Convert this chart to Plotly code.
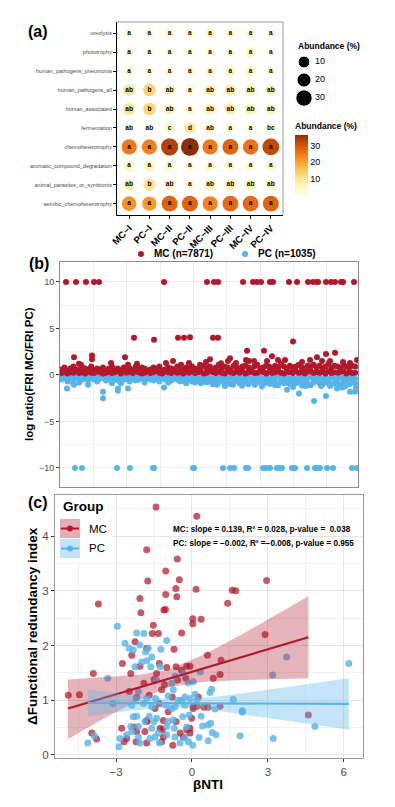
import numpy as np
import plotly.graph_objects as go

W, H = 395, 807
FONT = "Liberation Sans, Arial, Helvetica, sans-serif"


def px(x):
    return x / W


def py(y):
    return 1 - y / H


# ------------------------------------------------------------------ (a) data
groups = ["MC−I", "PC−I", "MC−II", "PC−II", "MC−III", "PC−III", "MC−IV", "PC−IV"]
functions = ["aerobic_chemoheterotrophy", "animal_parasites_or_symbionts",
             "aromatic_compound_degradation", "chemoheterotrophy", "fermentation",
             "human_associated", "human_pathogens_all", "human_pathogens_pneumonia",
             "phototrophy", "ureolysis"]

ab_aerobic_chemoheterotrophy = [22, 21, 28, 28, 24, 27, 27, 28]
ab_animal_parasites_or_symbionts = [8.5, 11, 5.5, 3, 5.5, 6.5, 5.5, 5.5]
ab_aromatic_compound_degradation = [5.5, 6.5, 3.5, 2, 3.5, 3.5, 3.5, 3.5]
ab_chemoheterotrophy = [25, 24, 33, 36.4, 25, 28, 26, 32]
ab_fermentation = [2, 2, 4.5, 9, 2, 1, 1, 3.5]
ab_human_associated = [10.5, 13, 6.5, 3.5, 6.5, 8, 6.5, 6.5]
ab_human_pathogens_all = [10.5, 13, 6.5, 3.5, 6.5, 8, 6.5, 6.5]
ab_human_pathogens_pneumonia = [2, 1.5, 2.5, 2.5, 3, 3.5, 3, 2.5]
ab_phototrophy = [1.5, 1, 1.5, 1, 2.5, 1.5, 4.5, 1.5]
ab_ureolysis = [2, 1.5, 2.5, 2, 3.5, 2, 2, 1.5]

lt_aerobic_chemoheterotrophy = ["a", "a", "a", "a", "a", "a", "a", "a"]
lt_animal_parasites_or_symbionts = ["ab", "b", "ab", "a", "ab", "ab", "ab", "ab"]
lt_aromatic_compound_degradation = ["a", "a", "a", "a", "a", "a", "a", "a"]
lt_chemoheterotrophy = ["a", "a", "a", "a", "a", "a", "a", "a"]
lt_fermentation = ["ab", "ab", "c", "d", "ab", "a", "a", "bc"]
lt_human_associated = ["ab", "b", "ab", "a", "ab", "ab", "ab", "ab"]
lt_human_pathogens_all = ["ab", "b", "ab", "a", "ab", "ab", "ab", "ab"]
lt_human_pathogens_pneumonia = ["a", "a", "a", "a", "a", "a", "a", "a"]
lt_phototrophy = ["a", "a", "a", "a", "a", "a", "a", "a"]
lt_ureolysis = ["a", "a", "a", "a", "a", "a", "a", "a"]

size_legend_values = [10, 20, 30]
colorbar_ticks = [10, 20, 30]

# ------------------------------------------------------------------ (b) data
n_mc = 7871
n_pc = 1035
band_step = 89  # index spacing of the dense band samples
mc_band_hi = [0.6, 0.8, 0.5, 0.7, 0.9, 0.6, 0.5, 0.8, 0.7, 0.6,
              0.9, 0.5, 0.7, 0.6, 0.8, 0.5, 0.7, 0.9, 0.6, 0.7,
              0.5, 0.8, 0.6, 0.7, 0.5, 0.9, 0.6, 0.8, 0.7, 0.5,
              0.6, 0.8, 0.7, 0.9, 0.5, 0.6, 0.8, 0.7, 0.6, 0.9,
              0.7, 0.5, 0.8, 0.6, 0.9, 0.7, 0.6, 0.8, 1.0, 0.7,
              0.9, 0.6, 0.8, 1.1, 0.7, 0.9, 0.8, 0.6, 1.0, 0.8,
              0.7, 0.9, 1.0, 0.8, 0.6, 0.9, 1.1, 0.7, 0.8, 1.0,
              0.9, 0.7, 1.0, 0.8, 1.2, 0.9, 0.7, 1.0, 0.8, 0.9,
              1.1, 0.8, 0.7, 1.0, 0.9, 1.1, 0.8, 1.0, 0.7, 0.9,
              1.2, 0.8, 1.0, 0.9, 0.7, 1.1, 0.9, 0.8, 1.0, 0.9]
mc_band_lo = [0.2, 0.35, 0.15, 0.3, 0.25, 0.4, 0.2, 0.3, 0.15, 0.35,
              0.25, 0.2, 0.4, 0.3, 0.15, 0.25, 0.35, 0.2, 0.3, 0.4,
              0.15, 0.3, 0.25, 0.35, 0.2, 0.4, 0.3, 0.15, 0.25, 0.35,
              0.2, 0.3, 0.4, 0.25, 0.15, 0.35, 0.3, 0.2, 0.4, 0.25,
              0.3, 0.15, 0.35, 0.25, 0.4, 0.2, 0.3, 0.35, 0.15, 0.25,
              0.4, 0.3, 0.2, 0.35, 0.25, 0.15, 0.4, 0.3, 0.2, 0.35,
              0.25, 0.4, 0.15, 0.3, 0.35, 0.2, 0.25, 0.4, 0.3, 0.15,
              0.35, 0.2, 0.3, 0.4, 0.25, 0.15, 0.35, 0.3, 0.2, 0.4,
              0.25, 0.3, 0.15, 0.35, 0.4, 0.2, 0.3, 0.25, 0.35, 0.15,
              0.4, 0.2, 0.3, 0.25, 0.35, 0.4, 0.15, 0.3, 0.2, 0.25]
pc_band_lo = [-0.5, -0.3, -0.7, -0.4, -0.6, -0.3, -0.8, -0.5, -0.4, -0.6,
              -0.3, -0.5, -0.7, -0.4, -0.3, -0.6, -0.5, -0.9, -0.4, -0.6,
              -0.3, -0.5, -0.4, -0.7, -0.3, -0.6, -0.5, -0.4, -0.8, -0.3,
              -0.5, -0.6, -0.4, -0.7, -0.3, -0.5, -0.8, -0.6, -0.4, -0.5,
              -0.7, -0.6, -0.9, -0.5, -0.7, -0.8, -0.6, -0.9, -0.7, -0.8,
              -0.6, -1.0, -0.7, -0.8, -0.6, -0.9, -0.7, -1.0, -0.8, -0.6,
              -0.9, -0.7, -0.8, -1.0, -0.6, -0.9, -0.8, -0.7, -1.0, -0.8,
              -0.9, -0.6, -0.8, -1.1, -0.7, -0.9, -0.8, -1.0, -0.7, -0.9,
              -0.8, -1.0, -0.7, -0.9, -1.1, -0.8, -0.6, -0.9, -1.0, -0.8,
              -0.7, -1.0, -0.9, -0.8, -1.1, -0.7, -0.9, -1.0, -0.8, -0.9]
pc_band_hi = [-0.2, -0.3, -0.15, -0.25, -0.35, -0.2, -0.3, -0.15, -0.4, -0.25,
              -0.2, -0.35, -0.15, -0.3, -0.25, -0.4, -0.2, -0.3, -0.15, -0.35,
              -0.25, -0.2, -0.4, -0.3, -0.15, -0.25, -0.35, -0.2, -0.3, -0.4,
              -0.15, -0.25, -0.3, -0.2, -0.35, -0.4, -0.15, -0.3, -0.25, -0.2,
              -0.35, -0.3, -0.15, -0.4, -0.25, -0.2, -0.35, -0.3, -0.45, -0.2,
              -0.3, -0.4, -0.25, -0.35, -0.2, -0.45, -0.3, -0.25, -0.4, -0.35,
              -0.2, -0.3, -0.45, -0.25, -0.35, -0.4, -0.2, -0.3, -0.45, -0.25,
              -0.35, -0.4, -0.3, -0.2, -0.45, -0.35, -0.25, -0.4, -0.3, -0.45,
              -0.2, -0.35, -0.4, -0.3, -0.25, -0.45, -0.35, -0.2, -0.4, -0.3,
              -0.45, -0.25, -0.35, -0.4, -0.2, -0.3, -0.45, -0.35, -0.25, -0.4]

mc_cap_x = [180, 480, 780, 1020, 1170, 3120, 4410, 4620, 4740, 5490, 5790, 5910, 6030, 6300,
            6390, 6870, 7110, 7440, 7590, 7710, 7740, 7980, 8130, 8250, 8430, 8490, 8820]
mc_cap_y = [10, 10, 10, 10, 10, 10, 10, 10, 10, 10, 10, 10, 10, 10,
            10, 10, 10, 10, 10, 10, 10, 10, 10, 10, 10, 10, 10]
mc_mid_x = [2220, 2820, 3540, 3720, 3900, 4590, 4740, 6990,
            420, 570, 630, 960, 960, 1530, 1950, 2040, 2310, 3180, 3390, 3630, 3870, 4200,
            4380, 4500, 4830, 5040, 5100, 5280, 5580, 5610, 5670, 5820, 6120, 6210, 6360,
            6540, 6750, 7260, 7500, 7710, 7860, 7980, 8100, 8250, 8490, 8700, 8910]
mc_mid_y = [4.0, 3.8, 4.0, 4.0, 4.05, 4.0, 4.0, 3.6,
            1.9, 1.2, 1.1, 2.1, 1.7, 1.3, 1.9, 1.1, 1.2, 1.3, 1.5, 1.1, 1.3, 1.1,
            1.4, 1.7, 1.25, 1.5, 1.8, 1.3, 1.6, 2.6, 1.5, 1.5, 2.6, 1.5, 2.0,
            1.6, 1.6, 1.4, 1.6, 1.9, 1.5, 2.25, 1.5, 2.4, 1.4, 1.3, 1.6]

pc_cap_x = [450, 660, 1710, 2100, 2790, 2820, 3990, 4020, 4890, 5100, 5220, 5580, 5640, 6090,
            6180, 6300, 6510, 6600, 6660, 6960, 7050, 7410, 7650, 7710, 7800, 8010, 8190, 8760, 8910]
pc_cap_y = [-10, -10, -10, -10, -10, -10, -10, -10, -10, -10, -10, -10, -10, -10,
            -10, -10, -10, -10, -10, -10, -10, -10, -10, -10, -10, -10, -10, -10, -10]
pc_mid_x = [210, 390, 420, 840, 1290, 1290, 1740, 1740, 1830, 2040, 3120, 4710, 5190, 5850,
            6300, 6810, 7170, 7380, 7620, 7830, 7980, 8310, 8460, 8700, 8850,
            4950, 5460, 6060, 6450, 6990, 7260, 8100, 8550, 8880]
pc_mid_y = [-1.45, -0.9, -1.05, -1.05, -1.8, -2.5, -1.45, -1.7, -0.9, -1.45, -1.35, -1.05, -1.05, -1.05,
            -0.95, -1.6, -2.0, -1.2, -2.8, -1.2, -2.25, -1.45, -1.35, -1.8, -1.8,
            -1.2, -1.15, -1.25, -1.1, -1.3, -1.15, -1.2, -1.25, -1.4]

# ------------------------------------------------------------------ (c) data
mc_points = [[-1.42, 4.53], [-1.79, 3.75], [-0.58, 3.58], [-1.04, 3.36], [-1.75, 3.18],
             [-0.50, 3.20], [-0.64, 3.04], [0.19, 4.36], [0.16, 3.03], [-2.06, 2.86],
             [-1.04, 2.93], [-0.60, 2.89], [1.59, 3.01], [1.73, 3.00], [2.95, 3.19],
             [-3.70, 2.76], [-2.02, 2.60], [-1.11, 2.65], [-1.05, 2.66], [0.03, 2.40],
             [0.03, 2.49], [0.36, 2.48], [1.41, 2.77], [2.89, 2.20], [-1.53, 2.37],
             [-1.57, 2.22], [-1.33, 2.22], [-0.41, 2.23], [-2.25, 2.07], [-0.71, 1.93],
             [-1.79, 1.95], [-2.38, 1.82], [-2.75, 1.67], [-2.06, 1.62], [-1.29, 1.67],
             [-1.00, 1.60], [-0.63, 1.61], [-0.21, 1.62], [-0.08, 1.62], [-3.90, 1.49],
             [-2.42, 1.49], [-1.40, 1.49], [-0.41, 1.55], [0.61, 1.82], [1.15, 1.73],
             [0.84, 1.40], [1.11, 1.47], [-4.89, 1.09], [-4.45, 1.10], [-2.48, 1.16],
             [-1.90, 1.31], [-1.50, 1.38], [-1.09, 1.29], [-0.57, 1.37], [-0.24, 1.40],
             [-2.19, 1.05], [-1.69, 1.09], [-1.20, 1.19], [-0.78, 1.06], [0.25, 1.06],
             [-2.78, 0.49], [-3.96, 0.40], [-3.77, 0.29], [-2.29, 0.51], [-2.19, 0.43],
             [-1.79, 0.63], [-0.94, 0.79], [-1.13, 0.63], [-0.63, 0.61], [-1.17, 0.46],
             [-1.13, 0.33], [-1.20, 0.24], [-1.26, 0.49], [-2.21, 0.24], [-1.79, 0.22],
             [-0.76, 0.18], [-0.47, 0.40], [-0.34, 0.33], [-0.21, 0.46], [-0.01, 0.67],
             [-1.46, 0.85], [-1.29, 0.94], [-1.77, 0.61], [-2.58, 0.30], [-2.69, 0.24],
             [-1.86, 0.43], [0.05, 0.85], [-0.08, 0.49], [-0.08, 0.40], [0.05, 0.89],
             [0.21, 0.89], [0.47, 0.87], [0.64, 0.87], [1.11, 0.89], [4.60, 0.73]]
pc_points = [[-2.95, 2.35], [-2.19, 2.23], [-1.90, 2.22], [-1.00, 2.09], [-2.65, 2.04],
             [-2.48, 1.95], [-2.32, 1.92], [-2.06, 2.01], [-1.73, 1.95], [-1.83, 1.88],
             [-1.23, 1.93], [-1.99, 1.70], [-1.79, 1.72], [-1.59, 1.79], [-1.63, 1.61],
             [-2.25, 1.61], [-1.26, 1.61], [-3.33, 1.40], [-1.40, 1.37], [-0.80, 1.31],
             [-0.67, 1.44], [-0.34, 1.49], [-0.15, 1.32], [-2.12, 1.16], [-1.79, 1.03],
             [-1.44, 1.03], [-0.94, 1.08], [-0.74, 1.19], [-0.41, 1.00], [-0.28, 1.06],
             [-0.08, 1.03], [0.19, 1.00], [-1.92, 0.94], [-1.59, 0.88], [-1.03, 0.91],
             [-0.67, 0.88], [-0.28, 0.91], [-2.38, 0.91], [-2.21, 1.03], [-2.32, 0.70],
             [-2.19, 0.71], [-1.69, 0.71], [-1.40, 0.67], [-1.50, 0.61], [-0.94, 0.61],
             [-0.74, 0.64], [-0.37, 0.70], [-0.11, 0.73], [-2.12, 0.52], [-1.59, 0.49],
             [-1.00, 0.52], [-0.70, 0.49], [-0.21, 0.51], [-3.86, 0.35], [-4.12, 0.22],
             [-2.85, 0.30], [-2.89, 0.15], [-2.58, 0.37], [-2.38, 0.43], [-2.12, 0.33],
             [-2.06, 0.22], [-1.66, 0.30], [-1.46, 0.33], [-1.33, 0.40], [-1.29, 0.22],
             [-1.00, 0.37], [-0.67, 0.33], [-0.28, 0.32], [0.03, 0.18], [-3.13, 0.94],
             [-0.47, 0.22], [-0.15, 0.24], [-1.86, 0.61], [-2.42, 0.52], [-0.54, 1.00],
             [-0.80, 0.85], [6.20, 1.67], [0.12, 1.11], [0.71, 1.14], [0.78, 1.20],
             [1.63, 1.02], [1.99, 0.81], [1.99, 0.78], [0.91, 0.84], [0.36, 0.71],
             [0.42, 0.53], [0.64, 0.55], [0.74, 0.58], [0.80, 0.41], [0.95, 0.37],
             [0.28, 0.32], [0.64, 0.26], [1.90, 0.35], [3.21, 0.30], [4.86, 0.52],
             [3.74, 1.79], [3.19, 1.46], [0.33, 1.52], [0.05, 1.34]]

mc_fit_x = [-4.9, 4.6]
mc_fit_y = [0.85, 2.15]
mc_ci_x = [-4.9, -3.5, -2.0, -0.9, 0.5, 2.0, 3.3, 4.6]
mc_ci_lo = [0.29, 0.66, 1.03, 1.24, 1.34, 1.37, 1.39, 1.40]
mc_ci_hi = [1.38, 1.42, 1.47, 1.56, 1.84, 2.21, 2.55, 2.90]
pc_fit_x = [-4.12, 6.2]
pc_fit_y = [0.953, 0.933]
pc_ci_x = [-4.12, -2.5, -0.64, 1.0, 2.5, 4.3, 6.2]
pc_ci_lo = [0.71, 0.81, 0.88, 0.81, 0.72, 0.59, 0.46]
pc_ci_hi = [1.20, 1.09, 1.01, 1.07, 1.16, 1.28, 1.40]

mc_slope, mc_r2, mc_p = 0.139, 0.028, 0.038
pc_slope, pc_r2, pc_p = -0.002, -0.008, 0.955

# ------------------------------------------------------------------ styles
RED = "#B2182B"
BLUE = "#56B4E9"
CSCALE = [[0.0, "#ffffe5"], [1 / 7, "#fff7bc"], [2 / 7, "#fee391"], [3 / 7, "#fec44f"],
          [4 / 7, "#fe9929"], [5 / 7, "#ec7014"], [6 / 7, "#cc4c02"], [1.0, "#8c2d04"]]


def bubble_size(v):
    return 9.5 + 0.23 * v


def fmt(v):
    return f"{v:.3f}".replace("-", "−")


fig = go.Figure()

# ------------------------------------------------------------------ (a) bubbles
rows = {
    "aerobic_chemoheterotrophy": (ab_aerobic_chemoheterotrophy, lt_aerobic_chemoheterotrophy),
    "animal_parasites_or_symbionts": (ab_animal_parasites_or_symbionts, lt_animal_parasites_or_symbionts),
    "aromatic_compound_degradation": (ab_aromatic_compound_degradation, lt_aromatic_compound_degradation),
    "chemoheterotrophy": (ab_chemoheterotrophy, lt_chemoheterotrophy),
    "fermentation": (ab_fermentation, lt_fermentation),
    "human_associated": (ab_human_associated, lt_human_associated),
    "human_pathogens_all": (ab_human_pathogens_all, lt_human_pathogens_all),
    "human_pathogens_pneumonia": (ab_human_pathogens_pneumonia, lt_human_pathogens_pneumonia),
    "phototrophy": (ab_phototrophy, lt_phototrophy),
    "ureolysis": (ab_ureolysis, lt_ureolysis),
}
bx, by, bv, bt = [], [], [], []
for f in functions:
    vals, lets = rows[f]
    for g, v, l in zip(groups, vals, lets):
        bx.append(g)
        by.append(f)
        bv.append(v)
        bt.append(f"<b>{l}</b>")

fig.add_trace(go.Scatter(
    x=bx, y=by, mode="markers+text", text=bt, textposition="middle center",
    textfont=dict(size=6.5, color="black", family=FONT),
    marker=dict(size=[bubble_size(v) for v in bv], color=bv, colorscale=CSCALE, opacity=1,
                cmin=0.4, cmax=36.4, line=dict(width=0),
                colorbar=dict(x=px(295), xanchor="left", y=py(195), yanchor="bottom",
                              len=75, lenmode="pixels", thickness=13, xpad=0, ypad=0,
                              outlinewidth=0, ticks="", tickvals=colorbar_ticks,
                              tickfont=dict(size=9, color="black", family=FONT),
                              title=dict(text="<b>Abundance (%)</b>", side="top",
                                         font=dict(size=8.5, color="black", family=FONT)))),
    xaxis="x", yaxis="y", cliponaxis=False, showlegend=False, hoverinfo="skip"))

# size legend
fig.add_trace(go.Scatter(
    x=[304] * len(size_legend_values), y=[62, 80, 98], mode="markers",
    marker=dict(size=[bubble_size(v) for v in size_legend_values], color="black", opacity=1),
    xaxis="x4", yaxis="y4", showlegend=False, hoverinfo="skip", cliponaxis=False))
fig.add_trace(go.Scatter(
    x=[315] * len(size_legend_values), y=[62, 80, 98], mode="text",
    text=[str(v) for v in size_legend_values], textposition="middle right",
    textfont=dict(size=9, color="black", family=FONT),
    xaxis="x4", yaxis="y4", showlegend=False, hoverinfo="skip", cliponaxis=False))

# ------------------------------------------------------------------ (b) scatter
band_x = [i * band_step + 45 for i in range(len(mc_band_hi))]
for ys in (pc_band_lo, pc_band_hi):
    fig.add_trace(go.Scatter(x=band_x, y=ys, mode="markers",
                             marker=dict(size=6, color=BLUE, line=dict(width=0)),
                             xaxis="x2", yaxis="y2", showlegend=False, hoverinfo="skip"))
fig.add_trace(go.Scatter(x=pc_cap_x + pc_mid_x, y=pc_cap_y + pc_mid_y, mode="markers",
                         marker=dict(size=6, color=BLUE, line=dict(width=0)),
                         xaxis="x2", yaxis="y2", showlegend=False, hoverinfo="skip"))
for ys in (mc_band_hi, mc_band_lo):
    fig.add_trace(go.Scatter(x=band_x, y=ys, mode="markers",
                             marker=dict(size=6, color=RED, line=dict(width=0)),
                             xaxis="x2", yaxis="y2", showlegend=False, hoverinfo="skip"))
fig.add_trace(go.Scatter(x=mc_cap_x + mc_mid_x, y=mc_cap_y + mc_mid_y, mode="markers",
                         marker=dict(size=6, color=RED, line=dict(width=0)),
                         xaxis="x2", yaxis="y2", showlegend=False, hoverinfo="skip"))

# ------------------------------------------------------------------ (c) scatter + fits
fig.add_trace(go.Scatter(x=[p[0] for p in mc_points], y=[p[1] for p in mc_points],
                         mode="markers", marker=dict(size=7, color=RED, opacity=0.72, line=dict(width=0)),
                         xaxis="x3", yaxis="y3", showlegend=False, hoverinfo="skip"))
fig.add_trace(go.Scatter(x=[p[0] for p in pc_points], y=[p[1] for p in pc_points],
                         mode="markers", marker=dict(size=7, color=BLUE, opacity=0.8, line=dict(width=0)),
                         xaxis="x3", yaxis="y3", showlegend=False, hoverinfo="skip"))
fig.add_trace(go.Scatter(x=mc_ci_x + mc_ci_x[::-1], y=mc_ci_hi + mc_ci_lo[::-1], fill="toself",
                         fillcolor="rgba(178,24,43,0.32)", line=dict(width=0), mode="lines",
                         xaxis="x3", yaxis="y3", showlegend=False, hoverinfo="skip"))
fig.add_trace(go.Scatter(x=mc_fit_x, y=mc_fit_y, mode="lines", line=dict(color=RED, width=2.2),
                         xaxis="x3", yaxis="y3", showlegend=False, hoverinfo="skip"))
fig.add_trace(go.Scatter(x=pc_ci_x + pc_ci_x[::-1], y=pc_ci_hi + pc_ci_lo[::-1], fill="toself",
                         fillcolor="rgba(86,180,233,0.35)", line=dict(width=0), mode="lines",
                         xaxis="x3", yaxis="y3", showlegend=False, hoverinfo="skip"))
fig.add_trace(go.Scatter(x=pc_fit_x, y=pc_fit_y, mode="lines", line=dict(color=BLUE, width=2.2),
                         xaxis="x3", yaxis="y3", showlegend=False, hoverinfo="skip"))

# ------------------------------------------------------------------ layout
GRID = "#EBEBEB"
MINOR = "#F5F5F5"
BORDER = "#8C8C8C"
TICKC = "#4D4D4D"

fig.update_layout(
    width=W, height=H, autosize=False, margin=dict(l=0, r=0, t=0, b=0),
    paper_bgcolor="white", plot_bgcolor="white", showlegend=False,
    font=dict(family=FONT, color="black"),
    xaxis=dict(domain=[px(117), px(283)], anchor="y", type="category", categoryorder="array",
               categoryarray=groups, range=[-0.6, 7.6], showline=True, linecolor="black",
               linewidth=1, ticks="outside", ticklen=3, tickcolor="black", tickangle=-45,
               tickfont=dict(size=9.5, color="black", family=FONT, weight="bold"),
               showgrid=False, zeroline=False, automargin=False),
    yaxis=dict(domain=[py(215), py(22)], anchor="x", type="category", categoryorder="array",
               categoryarray=functions, range=[-0.6, 9.6], showline=True, linecolor="black",
               linewidth=1, ticks="outside", ticklen=3, tickcolor="black",
               tickfont=dict(size=5.5, color=TICKC, family=FONT), showgrid=False, zeroline=False,
               automargin=False),
    xaxis2=dict(domain=[px(60), px(358)], anchor="y2", range=[0, 8940], tick0=0, dtick=1000,
                showticklabels=False, ticks="", showgrid=True, gridcolor=GRID, gridwidth=1,
                zeroline=False, showline=True, mirror=True, linecolor=BORDER, linewidth=1,
                automargin=False),
    yaxis2=dict(domain=[py(487), py(262)], anchor="x2", range=[-12.05, 12.15], tick0=0, dtick=5,
                showgrid=True, gridcolor=GRID, minor=dict(dtick=2.5, showgrid=True, gridcolor=MINOR),
                ticks="outside", ticklen=3, tickcolor="#333333",
                tickfont=dict(size=9, color=TICKC, family=FONT), zeroline=False,
                showline=True, mirror=True, linecolor=BORDER, linewidth=1, automargin=False),
    xaxis3=dict(domain=[px(55), px(363)], anchor="y3", range=[-5.415, 6.76], tick0=0, dtick=3,
                showgrid=True, gridcolor="#E5E5E5", minor=dict(dtick=1.5, showgrid=True, gridcolor="#F2F2F2"),
                ticks="outside", ticklen=3, tickcolor="#333333",
                tickfont=dict(size=11.5, color=TICKC, family=FONT), zeroline=False,
                showline=True, mirror=True, linecolor="#9A9A9A", linewidth=1, automargin=False),
    yaxis3=dict(domain=[py(758), py(495)], anchor="x3", range=[-0.055, 4.75], tick0=0, dtick=1,
                showgrid=True, gridcolor="#E5E5E5", minor=dict(dtick=0.5, showgrid=True, gridcolor="#F2F2F2"),
                ticks="outside", ticklen=3, tickcolor="#333333",
                tickfont=dict(size=11.5, color=TICKC, family=FONT), zeroline=False,
                showline=True, mirror=True, linecolor="#9A9A9A", linewidth=1, automargin=False),
    xaxis4=dict(domain=[px(290), px(345)], anchor="y4", range=[290, 345], visible=False),
    yaxis4=dict(domain=[py(108), py(52)], anchor="x4", range=[108, 52], visible=False),
)

shapes = []
# (a) top/right border
shapes.append(dict(type="line", xref="paper", yref="paper", x0=px(117), x1=px(283), y0=py(22), y1=py(22),
                   line=dict(color="#9A9A9A", width=1), layer="above"))
shapes.append(dict(type="line", xref="paper", yref="paper", x0=px(283), x1=px(283), y0=py(22), y1=py(215),
                   line=dict(color="#9A9A9A", width=1), layer="above"))
# (b) legend dots
for cx, col in ((141, RED), (245, BLUE)):
    shapes.append(dict(type="circle", xref="paper", yref="paper", x0=px(cx - 3), x1=px(cx + 3),
                       y0=py(254 + 3), y1=py(254 - 3), fillcolor=col, line=dict(width=0)))
# (c) legend
shapes.append(dict(type="rect", xref="paper", yref="paper", x0=px(56), x1=px(112), y0=py(562), y1=py(496),
                   fillcolor="white", line=dict(width=0), layer="above"))
for (y0, y1, fill, col) in ((519, 538, "rgba(178,24,43,0.35)", RED), (539, 558, "rgba(86,180,233,0.35)", BLUE)):
    yc = (y0 + y1) / 2
    shapes.append(dict(type="rect", xref="paper", yref="paper", x0=px(60), x1=px(80), y0=py(y1), y1=py(y0),
                       fillcolor=fill, line=dict(width=0), layer="above"))
    shapes.append(dict(type="line", xref="paper", yref="paper", x0=px(61), x1=px(79), y0=py(yc), y1=py(yc),
                       line=dict(color=col, width=2), layer="above"))
    shapes.append(dict(type="circle", xref="paper", yref="paper", x0=px(67), x1=px(73), y0=py(yc + 3),
                       y1=py(yc - 3), fillcolor=col, line=dict(width=0), layer="above"))
fig.update_layout(shapes=shapes)


def ann(text, x, y, size, xanchor="left", angle=0, bold=False, color="black"):
    return dict(text=f"<b>{text}</b>" if bold else text, x=px(x), y=py(y), xref="paper", yref="paper",
                xanchor=xanchor, yanchor="middle", showarrow=False, textangle=angle,
                font=dict(size=size, color=color, family=FONT))


annotations = [
    ann("(a)", 26, 31, 16, bold=True),
    ann("(b)", 27, 263, 16, bold=True),
    ann("(c)", 26, 502, 16, bold=True),
    ann("Abundance (%)", 296, 46, 8.5, bold=True),
    ann(f"MC (n={n_mc})", 152, 254, 10, bold=True),
    ann(f"PC (n={n_pc})", 256, 254, 10, bold=True),
    ann("log ratio(FRI MC/FRI PC)", 29, 374, 11.5, xanchor="center", angle=-90, bold=True),
    ann("Group", 61, 506, 13.5, bold=True),
    ann("MC", 87, 529, 11.5),
    ann("PC", 87, 548, 11.5),
    ann(f"MC: slope = {fmt(mc_slope)}, R² = {fmt(mc_r2)}, p-value = \u00a0{fmt(mc_p)}", 171, 529, 8.2, bold=True),
    ann(f"PC: slope = {fmt(pc_slope)}, R² ={fmt(pc_r2)}, p-value = {fmt(pc_p)}", 171, 543, 8.2, bold=True),
    ann("ΔFunctional redundancy index", 32, 626, 13.5, xanchor="center", angle=-90, bold=True),
    ann("βNTI", 208, 784, 13.5, xanchor="center", bold=True),
]
fig.update_layout(annotations=annotations)

fig.write_html("out.html", config={"displayModeBar": False, "staticPlot": True},
               post_script="document.body.style.margin='0px';document.body.style.padding='0px';")
